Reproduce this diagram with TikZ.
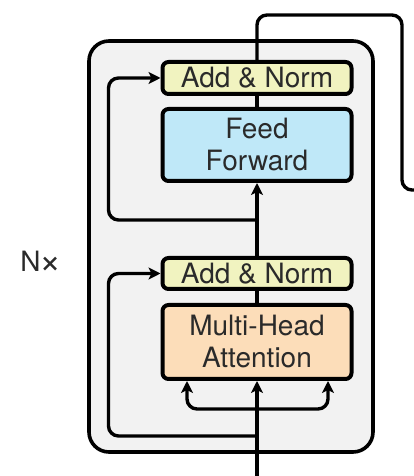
\documentclass[tikz,border=0pt]{standalone}
\usepackage{fontspec}
\setmainfont{TeX Gyre Heros}
\usetikzlibrary{arrows.meta,positioning}
\definecolor{normfill}{HTML}{F1F3C0}
\definecolor{ffwdfill}{HTML}{BFE8F8}
\definecolor{attnfill}{HTML}{FCDDB9}
\definecolor{stackfill}{HTML}{F2F2F2}
\definecolor{inktext}{HTML}{2A2A2A}
\tikzset{
  layerbox/.style={draw,line width=4pt,rounded corners=6pt,minimum width=189pt,text=inktext,align=center,inner sep=0pt},
  wire/.style={line width=3.4pt,rounded corners=10pt},
  arrowin/.style={-{Stealth[length=12pt,width=12pt,inset=3pt]}}
}
\begin{document}
\begin{tikzpicture}[x=1pt,y=1pt,font=\fontsize{28}{32}\selectfont]
\useasboundingbox (0,0) rectangle (414,476);
% the repeated layer
\draw[line width=3.6pt,rounded corners=20pt,fill=stackfill](89,435)rectangle(373,24);
\node[layerbox,fill=normfill,minimum height=32pt] (norm2) at (257,398) {Add \& Norm};
\node[layerbox,fill=ffwdfill,minimum height=72pt] (ffwd) at (257,331) {Feed\\Forward};
\node[layerbox,fill=normfill,minimum height=31pt] (norm1) at (257,202.5) {Add \& Norm};
\node[layerbox,fill=attnfill,minimum height=74pt] (attn) at (257,134) {Multi-Head\\Attention};
\node[text=inktext] (nx) at (41,214) {N\kern-1pt\raisebox{-2pt}{\scalebox{1.35}{×}}};
\coordinate (in) at (257,0);
\coordinate (split) at (257,67);
\coordinate (res1) at (257,40);
\coordinate (res2) at (257,256);
\coordinate (out) at (418,286);
% wires
\draw[wire,arrowin](in)--(attn.south);
\foreach \s in {-70,71}
  \draw[wire,arrowin](split)-|([xshift=\s pt]attn.south);
\draw[wire](attn)--(norm1);
\draw[wire,arrowin](norm1.north)--(ffwd.south);
\draw[wire](ffwd)--(norm2);
\foreach \f/\t in {res1/norm1,res2/norm2}
  \draw[wire,arrowin](\f)-|([xshift=-52pt]\t.west)--(\t.west);
\draw[wire](norm2.north)|-(402,461)|-(out);
\end{tikzpicture}
\end{document}
